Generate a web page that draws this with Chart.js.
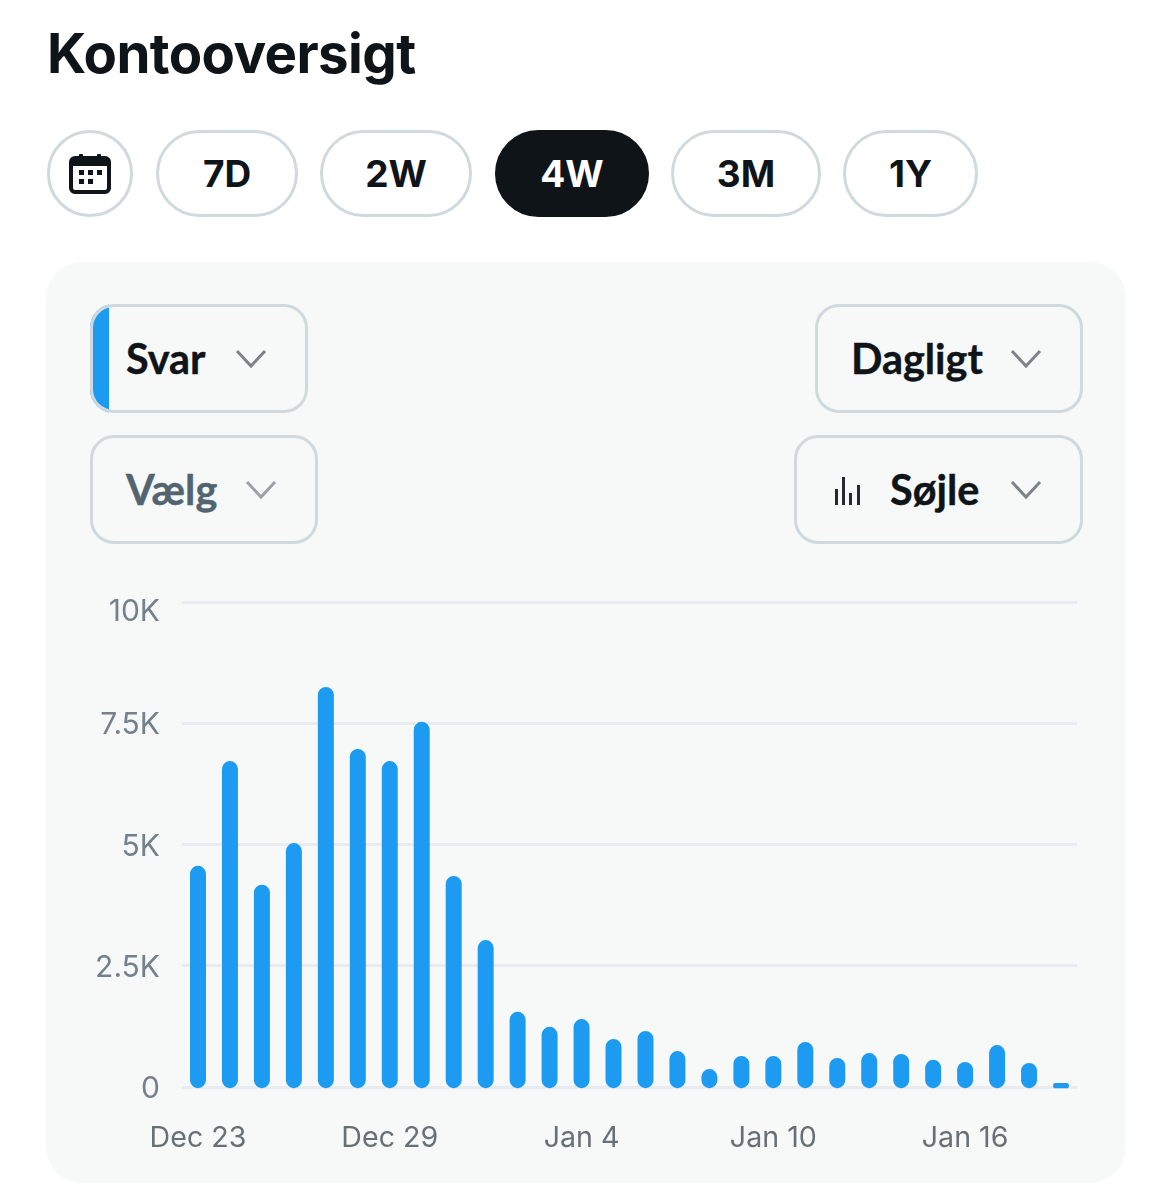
<!DOCTYPE html>
<html>
<head>
<meta charset="utf-8">
<title>Kontooversigt</title>
<script src="https://cdn.jsdelivr.net/npm/chart.js@4"></script>
<style>
    html, body { margin: 0; padding: 0; background: #fff; }
    body { position: relative; width: 1172px; height: 1200px; overflow: hidden; font-family: Inter, sans-serif; color: #0f1419; }
    h1 { position: absolute; left: 47px; top: 21px; margin: 0; font-size: 54.6px; line-height: 64px; font-weight: 700; letter-spacing: -0.6px; }
    .pill { position: absolute; top: 130px; height: 87px; box-sizing: border-box; border: 3px solid #cfd9de; border-radius: 44px; display: flex; align-items: center; justify-content: center; font-size: 37px; font-weight: 700; }
    .pill.active { background: #0f1419; border-color: #0f1419; color: #fff; }
    #panel { position: absolute; left: 46px; top: 262px; width: 1080px; height: 921px; background: #f7f9f9; border-radius: 36px; }
    .drop { position: absolute; height: 109px; box-sizing: border-box; border: 3px solid #cfd9de; border-radius: 24px; }
    .drop span { position: absolute; top: 0; line-height: 102px; font-family: Lato, sans-serif; font-size: 41.4px; font-weight: 700; white-space: nowrap; -webkit-text-stroke: 0.4px currentColor; }
    .drop svg { position: absolute; top: 40px; }
    .stripBox { position: absolute; left: 90px; top: 304px; width: 218px; height: 109px; border-radius: 24px; overflow: hidden; }
    .strip { position: absolute; left: 0; top: 0; bottom: 0; width: 19px; background: #1d9bf0; }
    #chartBox { position: absolute; left: 46px; top: 590px; width: 1080px; height: 590px; }
</style>
</head>
<body>
<h1>Kontooversigt</h1>

<div class="pill" style="left:47px;width:86px;">
    <svg width="42" height="42" viewBox="0 0 42 42">
        <rect x="2" y="5" width="38" height="34" rx="4" fill="none" stroke="#0f1419" stroke-width="4"/>
        <rect x="2" y="5" width="38" height="8" fill="#0f1419"/>
        <rect x="10" y="1" width="4" height="8" rx="1" fill="#0f1419"/>
        <rect x="28" y="1" width="4" height="8" rx="1" fill="#0f1419"/>
        <g fill="#0f1419">
            <rect x="10" y="17" width="5" height="5"/><rect x="19" y="17" width="5" height="5"/><rect x="28" y="17" width="5" height="5"/>
            <rect x="10" y="26" width="5" height="5"/><rect x="19" y="26" width="5" height="5"/>
        </g>
    </svg>
</div>
<div class="pill" style="left:156px;width:142px;">7D</div>
<div class="pill" style="left:320px;width:152px;">2W</div>
<div class="pill active" style="left:495px;width:154px;">4W</div>
<div class="pill" style="left:671px;width:150px;">3M</div>
<div class="pill" style="left:843px;width:135px;">1Y</div>

<div id="panel"></div>

<div class="stripBox"><div class="strip"></div></div>
<div class="drop" style="left:90px;top:304px;width:218px;">
    <span style="left:33px;">Svar</span>
    <svg style="left:142px;" width="32" height="24" viewBox="0 0 32 24"><path d="M2 4 L16 19 L30 4" fill="none" stroke="#7d8389" stroke-width="3"/></svg>
</div>
<div class="drop" style="left:90px;top:435px;width:228px;">
    <span style="left:33px;color:#536471;">Vælg</span>
    <svg style="left:152px;" width="32" height="24" viewBox="0 0 32 24"><path d="M2 4 L16 19 L30 4" fill="none" stroke="#9aa1a7" stroke-width="3"/></svg>
</div>
<div class="drop" style="left:815px;top:304px;width:268px;">
    <span style="left:33px;">Dagligt</span>
    <svg style="left:192px;" width="32" height="24" viewBox="0 0 32 24"><path d="M2 4 L16 19 L30 4" fill="none" stroke="#7d8389" stroke-width="3"/></svg>
</div>
<div class="drop" style="left:794px;top:435px;width:289px;">
    <svg style="left:37px;top:37px;" width="30" height="32" viewBox="0 0 30 32">
        <g fill="#22292f">
            <rect x="1" y="14" width="3" height="16"/><rect x="8" y="2" width="3" height="28"/>
            <rect x="15" y="18" width="3" height="12"/><rect x="23" y="10" width="3" height="20"/>
        </g>
    </svg>
    <span style="left:93px;">Søjle</span>
    <svg style="left:213px;" width="32" height="24" viewBox="0 0 32 24"><path d="M2 4 L16 19 L30 4" fill="none" stroke="#7d8389" stroke-width="3"/></svg>
</div>

<div id="chartBox"><canvas id="accountChart"></canvas></div>

<script>
const categories = [
    'Dec 23', 'Dec 24', 'Dec 25', 'Dec 26', 'Dec 27', 'Dec 28', 'Dec 29',
    'Dec 30', 'Dec 31', 'Jan 1', 'Jan 2', 'Jan 3', 'Jan 4', 'Jan 5',
    'Jan 6', 'Jan 7', 'Jan 8', 'Jan 9', 'Jan 10', 'Jan 11', 'Jan 12',
    'Jan 13', 'Jan 14', 'Jan 15', 'Jan 16', 'Jan 17', 'Jan 18', 'Jan 19'
];
const replies = [
    4560, 6720, 4170, 5030, 8250, 6970, 6720,
    7530, 4350, 3030, 1550, 1240, 1400, 990,
    1155, 740, 370, 640, 640, 930, 600,
    700, 680, 560, 515, 865, 495, 80
];
const yTicks = [0, 2500, 5000, 7500, 10000];
const yTickLabels = ['0', '2.5K', '5K', '7.5K', '10K'];
const xTickLabels = ['Dec 23', 'Dec 29', 'Jan 4', 'Jan 10', 'Jan 16'];

function createAccountChart() {
    const canvas = document.getElementById('accountChart');

    const data = {
        labels: categories,
        datasets: [{
            label: 'Svar',
            data: replies,
            backgroundColor: '#1d9bf0',
            borderWidth: 0,
            borderRadius: 8,
            borderSkipped: false,
            categoryPercentage: 1,
            barPercentage: 0.5,
            base: -25,
            clip: false
        }]
    };

    const config = {
        type: 'bar',
        data: data,
        options: {
            responsive: true,
            maintainAspectRatio: false,
            animation: false,
            layout: { padding: { top: 12, right: 49, left: 0, bottom: 0 } },
            plugins: { legend: { display: false }, tooltip: { enabled: false } },
            scales: {
                x: {
                    grid: { display: false },
                    border: { display: false },
                    afterFit: (scale) => {
                        scale.height = 93;
                        scale.paddingLeft = 0;
                        scale.paddingRight = 0;
                    },
                    ticks: {
                        autoSkip: false,
                        maxRotation: 0,
                        padding: 26,
                        color: '#687076',
                        font: { family: 'Inter', size: 28.6 },
                        callback: function (value) {
                            const name = categories[value];
                            return xTickLabels.includes(name) ? name : '';
                        }
                    }
                },
                y: {
                    min: 0,
                    max: 10000,
                    afterFit: (scale) => {
                        scale.width = 136;
                        scale.paddingTop = 0;
                        scale.paddingBottom = 0;
                    },
                    afterBuildTicks: (scale) => {
                        scale.ticks = yTicks.map((v) => ({ value: v }));
                    },
                    grid: { color: '#e8ecf1', lineWidth: 3, drawTicks: false },
                    border: { display: false },
                    ticks: {
                        padding: 22,
                        labelOffset: 2,
                        color: '#74818c',
                        font: (ctx) => ({
                            family: 'Inter',
                            size: 30,
                            lineHeight: ctx.tick && ctx.tick.value === 10000 ? '16px' : 1.2
                        }),
                        // the top label sits a little under its grid line
                        callback: function (value) {
                            const label = yTickLabels[yTicks.indexOf(value)];
                            return value === 10000 ? ['', label] : label;
                        }
                    }
                }
            }
        }
    };

    return new Chart(canvas, config);
}

createAccountChart();
</script>
</body>
</html>
